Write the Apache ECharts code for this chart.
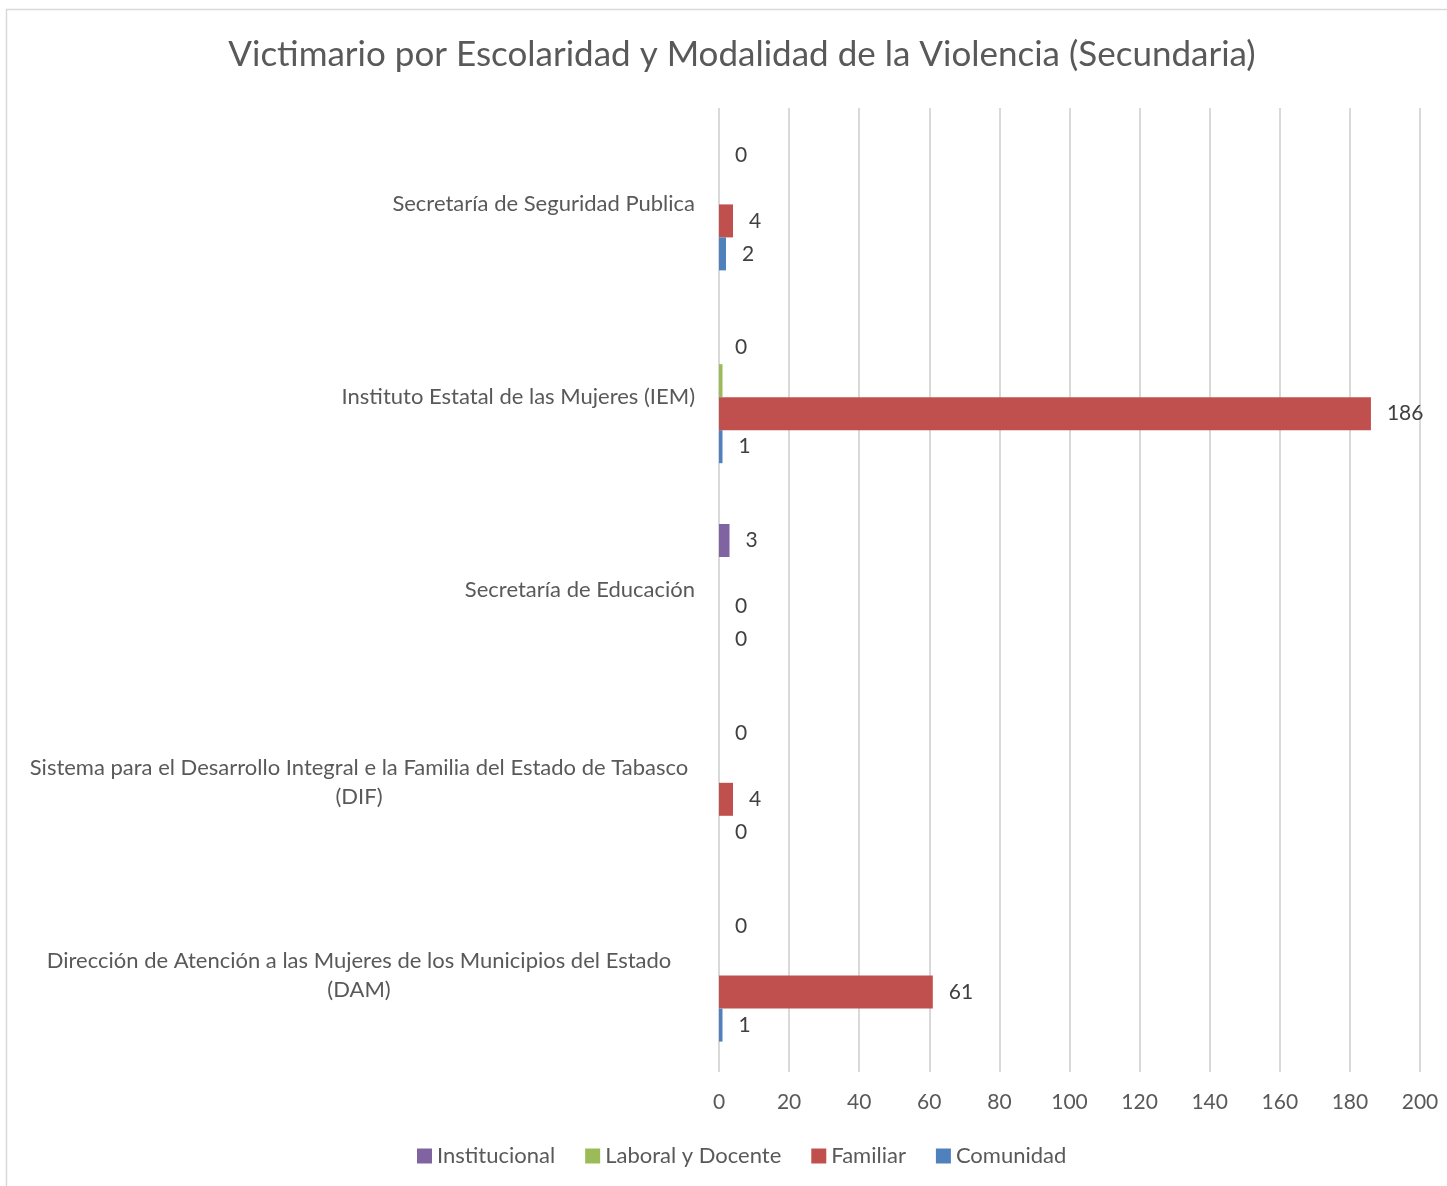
<!DOCTYPE html>
<html>
<head>
<meta charset="utf-8">
<script src="https://cdn.jsdelivr.net/npm/echarts@6/dist/echarts.min.js"></script>
<style>
  html, body { margin: 0; padding: 0; background: #fff; }
  #chart { width: 1447px; height: 1186px; }
</style>
</head>
<body>
<div id="chart"></div>
<script>
// categorias, de arriba hacia abajo
var categorias = [
  'Secretaría de Seguridad Publica',
  'Instituto Estatal de las Mujeres (IEM)',
  'Secretaría de Educación',
  'Sistema para el Desarrollo Integral e la Familia del Estado de Tabasco\n(DIF)',
  'Dirección de Atención a las Mujeres de los Municipios del Estado\n(DAM)'
]
var institucional = [0, 0, 3, 0, 0]
var laboralDocente = [0, 1, 0, 0, 0]
var familiar = [4, 186, 0, 4, 61]
var comunidad = [2, 1, 0, 0, 1]
var ejeX = { min: 0, max: 200, interval: 20 }

var fuente = 'Lato'
var gris = '#595959'

function etiqueta (show) {
  return {
    show: show,
    position: 'right',
    distance: 16,
    color: '#404040',
    fontFamily: fuente,
    fontSize: 21
  }
}

function serie (nombre, datos, color, conEtiqueta) {
  return {
    name: nombre,
    type: 'bar',
    data: datos,
    barWidth: 33,
    barGap: '0%',
    itemStyle: { color: color },
    label: etiqueta(conEtiqueta)
  }
}

var myChart = echarts.init(document.getElementById('chart'))
myChart.setOption({
  animation: false,
  backgroundColor: '#ffffff',
  title: {
    text: 'Victimario por Escolaridad y Modalidad de la Violencia (Secundaria)',
    left: 737,
    textAlign: 'center',
    top: 32,
    textStyle: { color: gris, fontFamily: fuente, fontSize: 35, fontWeight: 'normal' }
  },
  legend: {
    bottom: 14,
    left: 412,
    itemWidth: 15,
    itemHeight: 15,
    itemGap: 30,
    icon: 'rect',
    textStyle: { color: gris, fontFamily: fuente, fontSize: 22 },
    data: ['Institucional', 'Laboral y Docente', 'Familiar', 'Comunidad']
  },
  grid: { left: 719, right: 27, top: 108, bottom: 114, containLabel: false },
  xAxis: {
    type: 'value',
    min: ejeX.min,
    max: ejeX.max,
    interval: ejeX.interval,
    axisLine: { show: false },
    axisTick: { show: false },
    splitLine: { lineStyle: { color: '#d9d9d9', width: 2 } },
    axisLabel: { color: gris, fontFamily: fuente, fontSize: 21, margin: 20 }
  },
  yAxis: {
    type: 'category',
    inverse: true,
    data: categorias,
    axisLine: { show: false },
    axisTick: { show: false },
    axisLabel: {
      color: gris,
      fontFamily: fuente,
      fontSize: 22,
      margin: 24,
      lineHeight: 29,
      formatter: function (v) {
        if (v.indexOf('\n') < 0) return v
        return v.split('\n').map(function (l) { return '{c|' + l + '}' }).join('\n')
      },
      rich: {
        c: { width: 672, align: 'center', color: gris, fontFamily: fuente, fontSize: 22, lineHeight: 29 }
      }
    }
  },
  graphic: [
    { type: 'line', shape: { x1: 6.5, y1: 9, x2: 6.5, y2: 1186 }, style: { stroke: '#d9d9d9', lineWidth: 1.5 } },
    { type: 'line', shape: { x1: 6, y1: 9.5, x2: 1447, y2: 9.5 }, style: { stroke: '#d9d9d9', lineWidth: 1.5 } }
  ],
  series: [
    serie('Institucional', institucional, '#8064a2', true),
    serie('Laboral y Docente', laboralDocente, '#9bbb59', false),
    serie('Familiar', familiar, '#c0504d', true),
    serie('Comunidad', comunidad, '#4f81bd', true)
  ]
})
</script>
</body>
</html>
